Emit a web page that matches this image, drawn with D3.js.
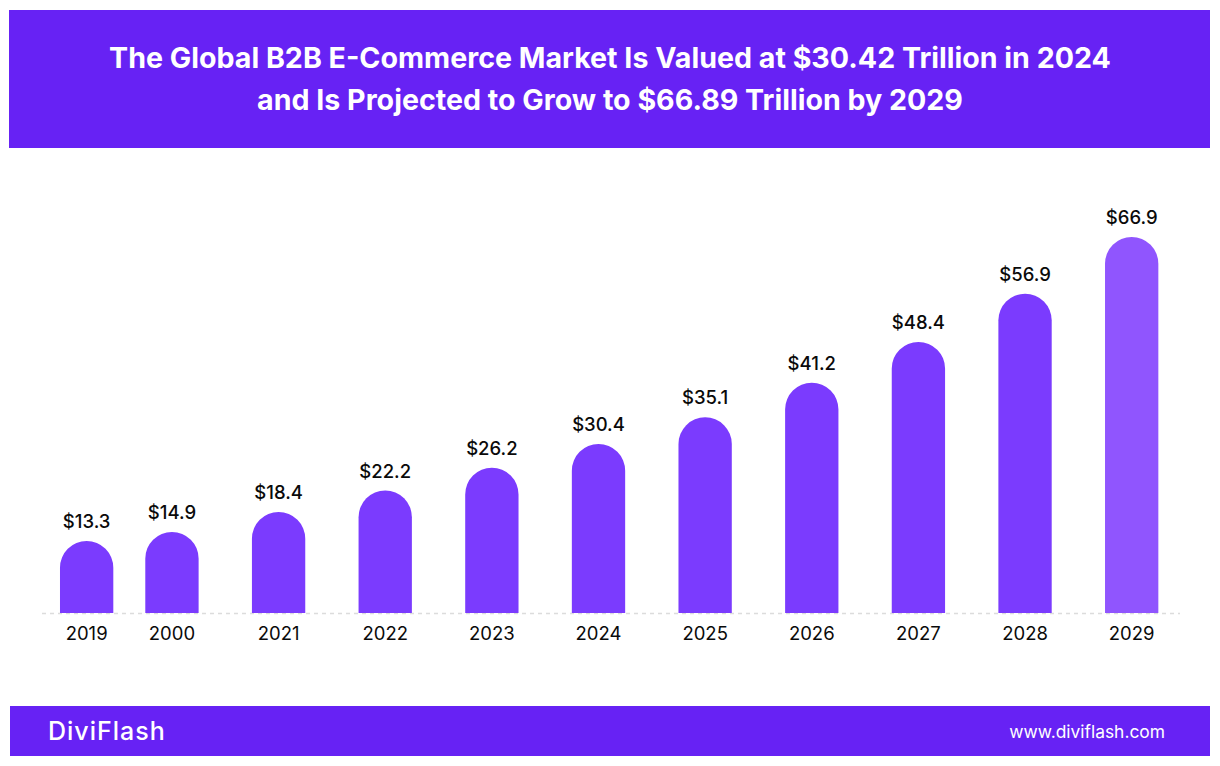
<!DOCTYPE html>
<html>
<head>
<meta charset="utf-8">
<script src="https://cdn.jsdelivr.net/npm/d3@7/dist/d3.min.js"></script>
<style>
  html, body { margin: 0; padding: 0; background: #ffffff; }
  svg { display: block; }
</style>
</head>
<body>
<script>
// ---- data ----
const years = ["2019", "2000", "2021", "2022", "2023", "2024", "2025", "2026", "2027", "2028", "2029"];
const values = [13.3, 14.9, 18.4, 22.2, 26.2, 30.4, 35.1, 41.2, 48.4, 56.9, 66.9];
const valueLabels = ["$13.3", "$14.9", "$18.4", "$22.2", "$26.2", "$30.4", "$35.1", "$41.2", "$48.4", "$56.9", "$66.9"];
const titleLines = [
  "The Global B2B E-Commerce Market Is Valued at $30.42 Trillion in 2024",
  "and Is Projected to Grow to $66.89 Trillion by 2029"
];
const brand = "DiviFlash";
const website = "www.diviflash.com";

// ---- layout ----
const W = 1220, H = 766;
const headerColor = "#6722F4";
const barColor = "#7B3BFE";
const lastBarColor = "#9055FE";
const font = "Inter, 'Open Sans', sans-serif";

const svg = d3.select("body").append("svg").attr("width", W).attr("height", H);

// header
svg.append("rect").attr("x", 9).attr("y", 10).attr("width", 1201).attr("height", 138).attr("fill", headerColor);
svg.selectAll("text.title").data(titleLines).join("text")
  .attr("class", "title")
  .attr("x", 610)
  .attr("y", (d, i) => 68 + i * 42)
  .attr("text-anchor", "middle")
  .attr("fill", "#ffffff")
  .attr("font-family", font)
  .attr("font-weight", 700)
  .attr("font-size", 28.6)
  .text(d => d);

// scales
const baseline = 613;
const x = d3.scaleBand().domain(years).range([12, 1185]).paddingInner(0.5).paddingOuter(0.25);
const y = d3.scaleLinear().domain([0.6, 66.9]).range([baseline, 237]);

// first bar sits a little closer to its neighbour in the original
const xPos = (d, i) => x(d) + (i === 0 ? x.step() * 0.2 : 0);

// dashed baseline
svg.append("line")
  .attr("x1", 42).attr("x2", 1180)
  .attr("y1", baseline + 0.5).attr("y2", baseline + 0.5)
  .attr("stroke", "#dcdcdc").attr("stroke-width", 1.5)
  .attr("stroke-dasharray", "4,4");

// rounded-top bars
const bw = x.bandwidth();
const r = bw / 2;
function barPath(x0, top) {
  const p = d3.path();
  p.moveTo(x0, baseline);
  p.lineTo(x0, top + r);
  p.arc(x0 + r, top + r, r, Math.PI, 0);
  p.lineTo(x0 + bw, baseline);
  p.closePath();
  return p.toString();
}

const g = svg.append("g");
g.selectAll("path.bar").data(values).join("path")
  .attr("class", "bar")
  .attr("d", (v, i) => barPath(xPos(years[i], i), y(v)))
  .attr("fill", (v, i) => i === values.length - 1 ? lastBarColor : barColor);

g.selectAll("text.val").data(values).join("text")
  .attr("class", "val")
  .attr("x", (v, i) => xPos(years[i], i) + bw / 2)
  .attr("y", v => y(v) - 13)
  .attr("text-anchor", "middle")
  .attr("fill", "#0a0a0a")
  .attr("font-family", font)
  .attr("font-weight", 500)
  .attr("font-size", 18.5)
  .text((v, i) => valueLabels[i]);

g.selectAll("text.year").data(years).join("text")
  .attr("class", "year")
  .attr("x", (d, i) => xPos(d, i) + bw / 2)
  .attr("y", 640)
  .attr("text-anchor", "middle")
  .attr("fill", "#0a0a0a")
  .attr("font-family", font)
  .attr("font-weight", 400)
  .attr("font-size", 18.5)
  .text(d => d);

// footer
svg.append("rect").attr("x", 10).attr("y", 706).attr("width", 1200).attr("height", 50).attr("fill", headerColor);
svg.append("text")
  .attr("x", 48).attr("y", 740)
  .attr("fill", "#ffffff")
  .attr("font-family", font)
  .attr("font-weight", 500)
  .attr("font-size", 25)
  .attr("letter-spacing", 1)
  .text(brand);
svg.append("text")
  .attr("x", 1165).attr("y", 738)
  .attr("text-anchor", "end")
  .attr("fill", "#ffffff")
  .attr("font-family", font)
  .attr("font-weight", 400)
  .attr("font-size", 17.4)
  .text(website);
</script>
</body>
</html>
